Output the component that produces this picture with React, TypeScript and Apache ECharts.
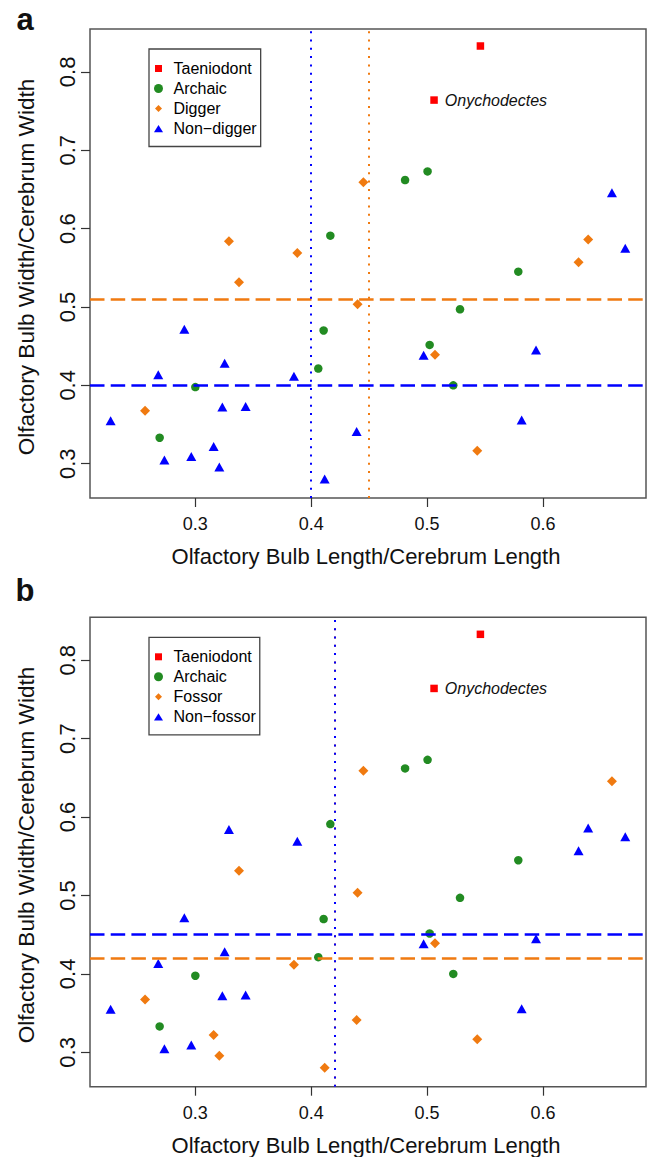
import React, { useEffect, useRef } from "react";
import * as echarts from "echarts";

// ---- data ----
const xTicks = [0.3, 0.4, 0.5, 0.6];
const yTicks = [0.3, 0.4, 0.5, 0.6, 0.7, 0.8];

const taeniodontX = [0.546, 0.506];
const taeniodontY = [0.833, 0.764];
const taeniodontNames = ["", "Onychodectes"];

const archaicX = [0.4165, 0.481, 0.5004, 0.5787, 0.5284, 0.5022, 0.5226, 0.4107, 0.4061, 0.3, 0.2692];
const archaicY = [0.591, 0.662, 0.673, 0.545, 0.497, 0.4516, 0.4, 0.47, 0.4214, 0.3977, 0.3331];

// panel a
const diggerX = [0.329, 0.388, 0.445, 0.639, 0.6307, 0.5068, 0.5433, 0.44, 0.3377, 0.2566];
const diggerY = [0.584, 0.569, 0.659, 0.586, 0.557, 0.439, 0.3166, 0.5034, 0.5315, 0.3675];
const nonDiggerX = [0.6595, 0.671, 0.497, 0.594, 0.5816, 0.2905, 0.3253, 0.268, 0.3851, 0.2269, 0.3233, 0.3434, 0.4392, 0.3158, 0.2733, 0.2965, 0.3207, 0.4116];
const nonDiggerY = [0.6456, 0.575, 0.4385, 0.445, 0.3557, 0.4716, 0.4283, 0.4134, 0.4117, 0.3548, 0.3722, 0.373, 0.3411, 0.322, 0.3047, 0.3093, 0.2958, 0.2805];

// panel b
const fossorX = [0.445, 0.6595, 0.5068, 0.5433, 0.44, 0.3377, 0.2566, 0.4392, 0.3851, 0.3158, 0.3207, 0.4116];
const fossorY = [0.659, 0.6456, 0.439, 0.3166, 0.5034, 0.5315, 0.3675, 0.3411, 0.4117, 0.322, 0.2958, 0.2805];
const nonFossorX = [0.329, 0.388, 0.639, 0.6307, 0.671, 0.497, 0.594, 0.5816, 0.2905, 0.3253, 0.268, 0.2269, 0.3233, 0.3434, 0.2733, 0.2965];
const nonFossorY = [0.584, 0.569, 0.586, 0.557, 0.575, 0.4385, 0.445, 0.3557, 0.4716, 0.4283, 0.4134, 0.3548, 0.3722, 0.373, 0.3047, 0.3093];

// reference (mean) lines
const diggerMeanA = { x: 0.452, y: 0.511 };
const nonDiggerMeanA = { x: 0.401, y: 0.395 };
const fossorMeanB = { x: 0.4217, y: 0.425 };
const nonFossorMeanB = { x: 0.4176, y: 0.445 };

const legendA = ["Taeniodont", "Archaic", "Digger", "Non\u2212digger"];
const legendB = ["Taeniodont", "Archaic", "Fossor", "Non\u2212fossor"];

const xTitle = "Olfactory Bulb Length/Cerebrum Length";
const yTitle = "Olfactory Bulb Width/Cerebrum Width";

// ---- styling ----
const FONT = "Liberation Sans";
const RED = "#FF0000";
const GREEN = "#228B22";
const ORANGE = "#F07A10";
const BLUE = "#0000FF";

// legend icons (square, circle, diamond, triangle) padded inside a 9x9 box
const legendIcons = [
  "path://M0,0M1,1L8,1L8,8L1,8ZM9,9",
  "path://M4.5,0A4.5,4.5,0,1,1,4.5,9A4.5,4.5,0,1,1,4.5,0Z",
  "path://M0,0M4.5,1L8,4.5L4.5,8L1,4.5ZM9,9",
  "path://M0,0M4.5,1L9,8.3L0,8.3ZM9,9",
];

const zip = (xs: number[], ys: number[]) => xs.map((x, i) => [x, ys[i]]);

const X_MIN = 0.2091;
const X_MAX = 0.6889;
const Y_MIN = 0.2562;
const Y_MAX = 0.8547;

function makeAxes(gridIndex: number) {
  const xAxis = {
    type: "value",
    gridIndex,
    min: X_MIN,
    max: X_MAX,
    axisLine: { show: false },
    splitLine: { show: false },
    axisTick: {
      show: true,
      inside: false,
      length: 9,
      customValues: xTicks,
      lineStyle: { color: "#333", width: 1.2 },
    },
    axisLabel: {
      customValues: xTicks,
      fontSize: 18,
      fontFamily: FONT,
      color: "#111",
      margin: 17,
      formatter: (v: number) => v.toFixed(1),
    },
  };
  const yAxis = {
    type: "value",
    gridIndex,
    min: Y_MIN,
    max: Y_MAX,
    axisLine: { show: false },
    splitLine: { show: false },
    axisTick: {
      show: true,
      inside: false,
      length: 9,
      customValues: yTicks,
      lineStyle: { color: "#333", width: 1.2 },
    },
    axisLabel: {
      customValues: yTicks,
      rotate: 90,
      fontSize: 22,
      fontFamily: FONT,
      color: "#111",
      margin: 12,
      formatter: (v: number) => v.toFixed(1),
    },
  };
  return { xAxis, yAxis };
}

function meanLineSeries(idx: number, color: string, mean: { x: number; y: number }) {
  return {
    type: "scatter",
    name: "mean" + idx + color,
    xAxisIndex: idx,
    yAxisIndex: idx,
    data: [],
    silent: true,
    z: 5,
    markLine: {
      silent: true,
      symbol: "none",
      animation: false,
      label: { show: false },
      data: [
        { yAxis: mean.y, lineStyle: { color, width: 2.6, type: [14.5, 6.2] } },
        { xAxis: mean.x, lineStyle: { color, width: 2, type: [2, 6.3] } },
      ],
    },
  };
}

function pointSeries(
  idx: number,
  name: string,
  xs: number[],
  ys: number[],
  symbol: string,
  size: number | number[],
  color: string
) {
  return {
    type: "scatter",
    name,
    xAxisIndex: idx,
    yAxisIndex: idx,
    symbol,
    symbolSize: size,
    itemStyle: { color, opacity: 1 },
    data: zip(xs, ys),
    z: 3,
  };
}

function taeniodontSeries(idx: number) {
  return {
    type: "scatter",
    name: "Taeniodont",
    xAxisIndex: idx,
    yAxisIndex: idx,
    symbol: "rect",
    symbolSize: 7.5,
    itemStyle: { color: RED, opacity: 1 },
    z: 3,
    data: taeniodontX.map((x, i) => ({
      value: [x, taeniodontY[i]],
      label: {
        show: taeniodontNames[i] !== "",
        formatter: taeniodontNames[i],
        position: "right",
        distance: 7,
        fontSize: 16,
        fontStyle: "italic",
        fontFamily: FONT,
        color: "#111",
      },
    })),
  };
}

function legendCfg(names: string[], top: number) {
  return {
    data: names.map((name, i) => ({ name, icon: legendIcons[i] })),
    orient: "vertical",
    left: 149,
    top,
    padding: [11.5, 4, 10, 5],
    itemGap: 4,
    itemWidth: 20,
    itemHeight: 9,
    symbolKeepAspect: true,
    selectedMode: false,
    borderColor: "#444",
    borderWidth: 1.3,
    textStyle: { fontSize: 16, color: "#000", fontFamily: FONT },
  };
}

function textEl(text: string, x: number, y: number, size: number, opts: any = {}) {
  return {
    type: "text",
    x,
    y,
    rotation: opts.rotation || 0,
    style: {
      text,
      fill: "#111",
      font: `${opts.bold ? "bold " : ""}${size}px "${FONT}"`,
      textAlign: opts.align || "center",
      textVerticalAlign: opts.valign || "middle",
    },
  };
}

export default function App() {
  const ref = useRef<HTMLDivElement>(null);

  useEffect(() => {
    document.body.style.margin = "0";
    if (!ref.current) return;
    const chart = echarts.init(ref.current, null, { renderer: "svg" });
    const a = makeAxes(0);
    const b = makeAxes(1);
    const option = {
      animation: false,
      backgroundColor: "#ffffff",
      textStyle: { fontFamily: FONT },
      grid: [
        { left: 90, top: 29, width: 556, height: 469, show: true, borderColor: "#555", borderWidth: 1.5, backgroundColor: "transparent" },
        { left: 90, top: 617.3, width: 556, height: 469.4, show: true, borderColor: "#555", borderWidth: 1.5, backgroundColor: "transparent" },
      ],
      xAxis: [a.xAxis, b.xAxis],
      yAxis: [a.yAxis, b.yAxis],
      legend: [legendCfg(legendA, 49), legendCfg(legendB, 637.3)],
      series: [
        taeniodontSeries(0),
        pointSeries(0, "Archaic", archaicX, archaicY, "circle", 8.5, GREEN),
        pointSeries(0, "Digger", diggerX, diggerY, "diamond", 10, ORANGE),
        pointSeries(0, "Non\u2212digger", nonDiggerX, nonDiggerY, "triangle", [10, 9], BLUE),
        meanLineSeries(0, ORANGE, diggerMeanA),
        meanLineSeries(0, BLUE, nonDiggerMeanA),
        taeniodontSeries(1),
        pointSeries(1, "Archaic", archaicX, archaicY, "circle", 8.5, GREEN),
        pointSeries(1, "Fossor", fossorX, fossorY, "diamond", 10, ORANGE),
        pointSeries(1, "Non\u2212fossor", nonFossorX, nonFossorY, "triangle", [10, 9], BLUE),
        meanLineSeries(1, ORANGE, fossorMeanB),
        meanLineSeries(1, BLUE, nonFossorMeanB),
      ],
      graphic: [
        textEl("a", 25, 19, 31, { bold: true }),
        textEl("b", 25, 590, 31, { bold: true }),
        textEl(yTitle, 26, 267, 22.6, { rotation: Math.PI / 2 }),
        textEl(yTitle, 26, 855, 22.6, { rotation: Math.PI / 2 }),
        textEl(xTitle, 366, 556.5, 22),
        textEl(xTitle, 366, 1145, 22),
      ],
    };
    chart.setOption(option as any);
    return () => chart.dispose();
  }, []);

  return <div ref={ref} style={{ width: 647, height: 1157 }} />;
}
